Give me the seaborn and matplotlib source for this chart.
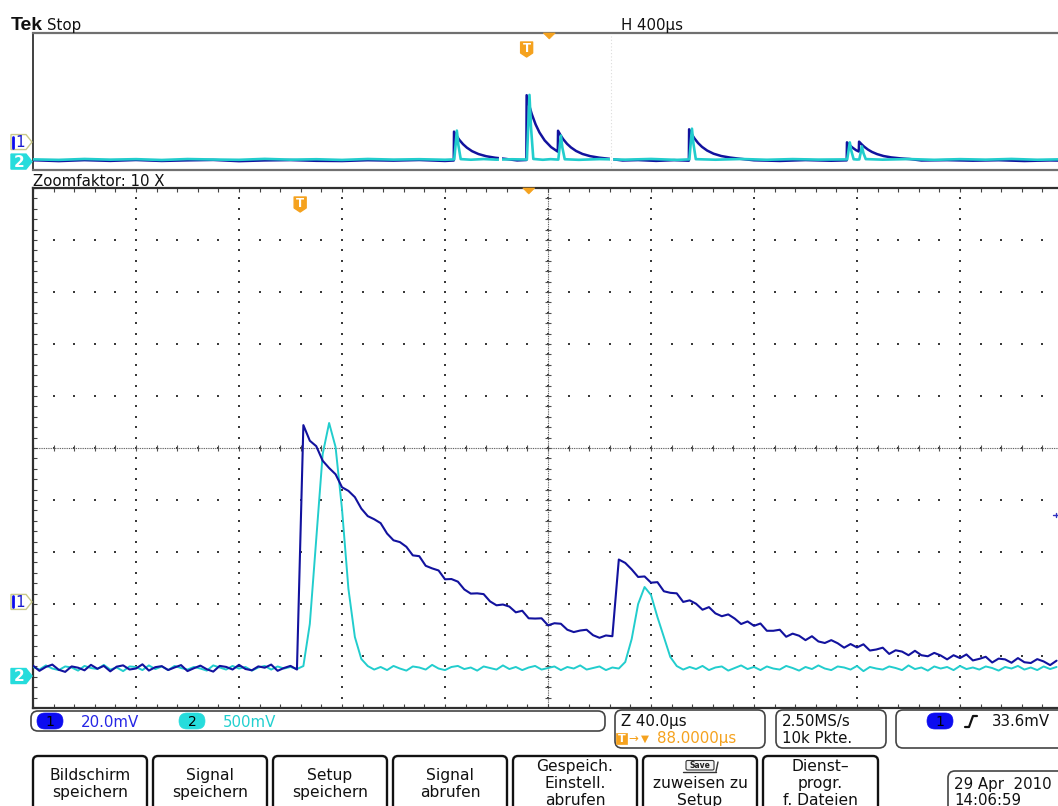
import numpy as np
import pandas as pd
import matplotlib
matplotlib.use("Agg")
import matplotlib.pyplot as plt
from matplotlib.patches import Polygon, FancyBboxPatch, Rectangle
import seaborn as sns

# ---------------- data ----------------
# Zoomed window: Z 40.0 us/div, samples every 2.5 us
MAIN_DT_US = 2.5
ch1_main_mv = [
    -24.5, -26.5, -25.0, -24.1, -26.1, -26.9, -24.8, -25.3, -26.3, -24.2,
    -25.7, -24.6, -26.7, -24.9, -24.4, -26.0, -25.6, -24.0, -26.4, -25.1,
    -24.7, -26.2, -25.2, -24.3, -26.6, -25.5, -24.5, -25.9, -26.8, -24.6,
    -25.0, -26.0, -24.2, -25.8, -26.3, -24.8, -25.3, -24.1, -26.5, -25.4,
    -24.6, -26.0,
    68.0, 62.0, 59.9, 54.3, 51.5, 49.1, 44.1, 42.7, 40.3, 35.9,
    33.0, 31.8, 30.3, 26.3, 23.7, 23.0, 21.2, 17.9, 17.6, 13.9,
    12.9, 12.1, 8.7, 8.8, 7.8, 4.8, 3.2, 3.3, 3.0, 0.2,
    -1.3, -1.0, -1.8, -4.0, -3.4, -6.3, -6.4, -6.3, -9.0, -8.2,
    -8.4, -10.7, -11.6, -11.0, -10.7, -12.8, -13.8, -12.9, -13.2,
    16.3, 15.0, 12.5, 9.6, 9.8, 7.4, 7.6, 4.1, 3.5,
    3.3, 0.0, 0.6, -0.7, -3.0, -2.0, -4.4, -5.5, -4.8, -6.4,
    -8.5, -7.5, -9.2, -8.3, -11.1, -11.1, -10.7, -13.4, -12.2, -13.0,
    -14.7, -13.2, -15.2, -15.8, -14.7, -15.9, -17.6, -16.2, -17.5, -16.3,
    -18.7, -18.3, -17.6, -20.0, -18.6, -19.1, -20.5, -18.8, -20.5, -20.9,
    -19.6, -20.6, -22.1, -20.5, -21.6, -20.2, -22.5, -21.9, -21.1, -23.3,
    -21.8, -22.1, -23.4, -21.6, -23.2, -23.5, -22.0, -22.9, -24.3, -22.6,
]
ch2_main_mv = [
    87, 62, 102, 72, 57, 92, 82, 52, 97, 77, 67, 107, 62, 82, 47, 92, 87, 57, 102, 67,
    92, 57, 97, 77, 62, 87, 72, 52, 102, 82, 62, 97, 72, 87, 52, 82, 97, 62, 92, 72,
    87, 67,
    96, 500, 1317, 2135, 2433, 2202, 1606, 837, 375, 164, 96,
    62, 87, 57, 97, 72, 52, 92, 82, 62, 107, 72, 57, 87, 97, 67, 82, 52, 92, 77, 62,
    102, 67, 87, 57, 82, 97, 62, 77, 92, 57, 87, 72, 102, 62, 77, 92, 57, 82, 72,
    135, 356, 692, 856, 779, 567, 375, 183, 96,
    62, 87, 67, 97, 57, 82, 92, 52, 77, 102, 67, 87, 57, 92, 72, 62, 97, 77, 52, 87,
    67, 102, 72, 57, 92, 82, 62, 97, 47, 87, 72, 62, 92, 77, 57, 102, 67, 82, 52, 92,
    72, 87, 57, 97, 67, 82, 62, 92, 77, 52, 87, 72, 97, 62, 82, 57, 92, 67, 87,
]

# Overview record: H 400 us/div
ov_ch1_t_us = [0, 100, 200, 300, 400, 500, 600, 700, 800, 900, 1000, 1100, 1200, 1300, 1400, 1500, 1600, 1634,
               1635, 1645, 1655, 1670, 1685, 1705, 1730, 1760, 1795, 1835, 1880, 1916,
               1917, 1927, 1937, 1952, 1967, 1987, 2012, 2038,
               2039, 2049, 2059, 2074, 2089, 2109, 2134, 2164, 2199, 2239, 2290, 2350, 2420, 2490, 2547,
               2548, 2558, 2568, 2583, 2598, 2618, 2643, 2673, 2708, 2748, 2800, 2900, 3000, 3100, 3160,
               3161, 3171, 3181, 3196, 3207,
               3208, 3218, 3228, 3243, 3258, 3278, 3303, 3333, 3368, 3408, 3450, 3550, 3650, 3750, 3850, 3950, 4000]
ov_ch1_mv = [-26.5, -27.8, -26.4, -27.5, -26.2, -27.6, -26.7, -26.1, -27.9, -26.8, -26.3, -27.4, -27.7, -26.5, -27.1, -26.2, -27.6, -26.9,
             15.2, 9.0, 3.5, -3.1, -8.2, -13.3, -17.5, -20.7, -22.9, -24.6, -26.8, -26.2,
             68.4, 53.4, 40.8, 25.6, 13.9, 2.4, -7.4, -14.0,
             16.5, 9.8, 4.2, -2.6, -7.8, -13.0, -17.4, -20.6, -22.8, -24.5, -26.9, -26.3, -27.5, -26.4, -27.2,
             18.6, 11.6, 5.7, -1.5, -7.0, -12.4, -17.0, -20.4, -22.7, -24.5, -26.6, -27.6, -26.3, -27.3, -26.7,
             -0.4, -4.4, -7.7, -11.8, -13.8,
             0.6, -3.3, -6.8, -11.1, -14.4, -17.6, -20.4, -22.4, -23.8, -24.9, -26.9, -26.4, -27.2, -26.5, -27.7, -26.8, -27.1]
ov_ch2_t_us = [0, 100, 200, 300, 400, 500, 600, 700, 800, 900, 1000, 1100, 1200, 1300, 1400, 1500, 1600, 1636,
               1641, 1646, 1652, 1661, 1700, 1750, 1800, 1860, 1918,
               1923, 1928, 1934, 1943, 1980, 2010, 2040,
               2045, 2050, 2056, 2065, 2120, 2200, 2300, 2400, 2500, 2549,
               2554, 2559, 2565, 2574, 2650, 2750, 2850, 2950, 3050, 3162,
               3167, 3172, 3178, 3187, 3200, 3209,
               3214, 3219, 3225, 3234, 3300, 3400, 3500, 3600, 3700, 3800, 3900, 4000]
ov_ch2_mv = [80, 62, 95, 70, 88, 58, 92, 75, 64, 98, 70, 85, 60, 94, 72, 86, 66, 80,
             600, 1130, 600, 90, 68, 92, 70, 84, 75,
             1250, 2433, 1250, 96, 66, 88, 72,
             500, 950, 500, 85, 64, 90, 70, 95, 62, 80,
             640, 1200, 640, 88, 68, 94, 66, 90, 72, 80,
             390, 700, 390, 85, 75, 80,
             310, 550, 310, 90, 70, 92, 64, 88, 70, 96, 66, 84]

# scope settings
CH1_MV_PER_DIV = 20.0
CH2_MV_PER_DIV = 500.0
CH1_POS_DIV = -2.96
CH2_POS_DIV = -4.385
MAIN_US_PER_DIV = 40
OV_US_PER_DIV = 400
TRIG_MAIN_US = 103.75
TRIG_OV_US = 1917.0
TRIG_DELAY_US = 88.0
TRIG_LEVEL_MV = 33.6
ZOOM_WIN_US = [1813, 2245]

# texts
header_left = ("Tek", "Stop")
header_h = "H 400µs"
zoom_label = "Zoomfaktor: 10 X"
ch1_scale_txt = "20.0mV"
ch2_scale_txt = "500mV"
zoom_scale_txt = "Z 40.0µs"
delay_txt = "88.0000µs"
rate_txt = ["2.50MS/s", "10k Pkte."]
trig_txt = "33.6mV"
button_labels = [["Bildschirm", "speichern"], ["Signal", "speichern"], ["Setup", "speichern"],
                 ["Signal", "abrufen"], ["Gespeich.", "Einstell.", "abrufen"],
                 ["", "zuweisen zu", "Setup"], ["Dienst–", "progr.", "f. Dateien"]]
date_txt = ["29 Apr  2010", "14:06:59"]

# ---------------- styling ----------------
ORANGE = '#F5A21E'
C1 = '#12129E'
C2 = '#22CDCD'
PILL1 = '#0C0CF0'
PILL2 = '#26DCDC'
TXT1 = '#2626E6'
TXT2 = '#22D0D0'
FS = 10.8

sns.set_style("white")
plt.rcParams['font.family'] = ['DejaVu Sans']

W, H, DPI = 1058, 806, 100
fig = plt.figure(figsize=(W / DPI, H / DPI), dpi=DPI)
fig.patch.set_facecolor('white')


def px_axes(x0, y0, x1, y1):
    return fig.add_axes([x0 / W, 1 - y1 / H, (x1 - x0) / W, (y1 - y0) / H])


ax_ov = px_axes(33, 33, 1063, 170)
ax = px_axes(33, 188, 1063, 708)

# ---------------- overview ----------------
ov1 = pd.DataFrame({'t': ov_ch1_t_us, 'div': np.array(ov_ch1_mv) / CH1_MV_PER_DIV + CH1_POS_DIV})
ov2 = pd.DataFrame({'t': ov_ch2_t_us, 'div': np.array(ov_ch2_mv) / CH2_MV_PER_DIV + CH2_POS_DIV})
sns.lineplot(data=ov1, x='t', y='div', ax=ax_ov, color=C1, linewidth=1.8, estimator=None, sort=False, zorder=3)
sns.lineplot(data=ov2, x='t', y='div', ax=ax_ov, color=C2, linewidth=1.9, estimator=None, sort=False, zorder=4)
for xw in ZOOM_WIN_US:
    ax_ov.axvline(xw, ymin=0.03, ymax=0.97, color='white', lw=2.2, zorder=6)
ax_ov.axvline(ZOOM_WIN_US[1], ymin=0.02, ymax=0.98, color='#dcdcdc', lw=0.8, ls=(0, (1, 2)), zorder=7)
ax_ov.set_xlim(0, 10 * OV_US_PER_DIV)
ax_ov.set_ylim(-5, 5)
ax_ov.set_xticks([]); ax_ov.set_yticks([])
ax_ov.set_xlabel(''); ax_ov.set_ylabel('')
for side in ['top', 'bottom']:
    ax_ov.spines[side].set_color('#707070'); ax_ov.spines[side].set_linewidth(1.6)
ax_ov.spines['left'].set_color('#404040'); ax_ov.spines['left'].set_linewidth(1.4)
ax_ov.spines['right'].set_visible(False)

# ---------------- main (zoomed) ----------------
t_main = np.arange(len(ch1_main_mv)) * MAIN_DT_US
m1 = pd.DataFrame({'t': t_main, 'div': np.array(ch1_main_mv) / CH1_MV_PER_DIV + CH1_POS_DIV})
m2 = pd.DataFrame({'t': t_main, 'div': np.array(ch2_main_mv) / CH2_MV_PER_DIV + CH2_POS_DIV})
sns.lineplot(data=m2, x='t', y='div', ax=ax, color=C2, linewidth=1.4, estimator=None, sort=False, zorder=4)
sns.lineplot(data=m1, x='t', y='div', ax=ax, color=C1, linewidth=1.5, estimator=None, sort=False, zorder=5)

xmax = 10 * MAIN_US_PER_DIV
ax.set_xlim(0, xmax)
ax.set_ylim(-5, 5)
ax.set_xlabel(''); ax.set_ylabel('')

# graticule dots
xs_major = np.arange(0, xmax + 0.1, MAIN_US_PER_DIV)
xs_minor = np.arange(0, xmax + 0.1, MAIN_US_PER_DIV / 5)
ys_major = np.arange(-5, 5.01, 1.0)
ys_minor = np.arange(-5, 5.01, 0.2)
gx, gy = np.meshgrid(xs_major, ys_minor)
ax.scatter(gx.ravel(), gy.ravel(), s=1.0, c='#3a3a3a', marker='s', linewidths=0, zorder=1)
gx, gy = np.meshgrid(xs_minor, ys_major)
ax.scatter(gx.ravel(), gy.ravel(), s=1.0, c='#3a3a3a', marker='s', linewidths=0, zorder=1)
# center cross
ax.axhline(0, color='#505050', lw=0.8, ls=(0, (0.8, 0.8)), zorder=1)
ax.axvline(xmax / 2, color='#505050', lw=0.8, ls=(0, (0.8, 0.8)), zorder=1)
ax.scatter(xs_minor, np.zeros_like(xs_minor), marker='|', s=16, c='#505050', linewidths=0.8, zorder=1)
ax.scatter(np.full_like(ys_minor, xmax / 2), ys_minor, marker='_', s=16, c='#505050', linewidths=0.8, zorder=1)

ax.set_xticks(xs_minor)
ax.set_yticks(ys_minor)
ax.tick_params(which='major', direction='in', length=3, width=0.8, color='#444444',
               top=True, bottom=True, left=True, right=True,
               labelbottom=False, labelleft=False)
for side in ['top', 'bottom', 'left']:
    ax.spines[side].set_color('#303030'); ax.spines[side].set_linewidth(1.6)
ax.spines['right'].set_visible(False)

# ---------------- overlay (UI chrome) ----------------
ov = fig.add_axes([0, 0, 1, 1])
ov.set_xlim(0, W); ov.set_ylim(H, 0); ov.axis('off')


def to_px(axx, x, y):
    dx, dy = axx.transData.transform((x, y))
    return dx, H - dy


ov.text(11, 30, header_left[0], family='Liberation Sans', weight='bold', fontsize=14, va='baseline', color='#111111')
ov.text(47, 30, header_left[1], fontsize=FS, va='baseline', color='#111111')
ov.text(621, 30, header_h, fontsize=FS, va='baseline', color='#111111')
ov.text(33, 185.5, zoom_label, fontsize=FS, va='baseline', color='#111111')


def trig_marker(cx, cy):
    pts = [(cx - 6, cy - 7), (cx + 6, cy - 7), (cx + 6, cy + 4), (cx, cy + 8), (cx - 6, cy + 4)]
    ov.add_patch(Polygon(pts, closed=True, fc=ORANGE, ec=ORANGE, lw=1, joinstyle='round'))
    ov.text(cx, cy - 0.5, "T", color='white', fontsize=8.5, fontweight='bold', ha='center', va='center')


def delay_marker(cx, top):
    ov.add_patch(Polygon([(cx - 6, top), (cx + 6, top), (cx, top + 6)], closed=True, fc=ORANGE, ec=ORANGE, lw=0.5))


x_tov, _ = to_px(ax_ov, TRIG_OV_US, 0)
x_dov, _ = to_px(ax_ov, TRIG_OV_US + TRIG_DELAY_US, 0)
x_tm, _ = to_px(ax, TRIG_MAIN_US, 0)
x_dm, _ = to_px(ax, TRIG_MAIN_US + TRIG_DELAY_US, 0)
trig_marker(x_tov, 49)
delay_marker(x_dov, 33)
trig_marker(x_tm, 204)
delay_marker(x_dm + 2, 188)


def ch_tag(y, num, filled):
    x0, x1, tip, h = 11, 26, 32, 15
    pts = [(x0, y - h / 2), (x1, y - h / 2), (tip, y), (x1, y + h / 2), (x0, y + h / 2)]
    if filled:
        ov.add_patch(Polygon(pts, closed=True, fc=PILL2, ec=PILL2, lw=1))
        ov.text(19, y + 0.5, num, color='white', fontsize=11, fontweight='bold', ha='center', va='center')
    else:
        ov.add_patch(Polygon(pts, closed=True, fc='white', ec='#C9C98A', lw=1))
        ov.plot([12.5, 12.5], [y - 5.5, y + 5.5], color=PILL1, lw=2)
        ov.text(20, y + 0.5, num, color='#1A1AD0', fontsize=11, ha='center', va='center')


_, y1o = to_px(ax_ov, 0, CH1_POS_DIV)
_, y2o = to_px(ax_ov, 0, CH2_POS_DIV)
_, y1m = to_px(ax, 0, CH1_POS_DIV)
_, y2m = to_px(ax, 0, CH2_POS_DIV)
ch_tag(y1o, "1", False)
ch_tag(y2o, "2", True)
ch_tag(y1m, "1", False)
ch_tag(y2m, "2", True)

# trigger level indicator at right edge
_, ytl = to_px(ax, 0, TRIG_LEVEL_MV / CH1_MV_PER_DIV + CH1_POS_DIV)
ov.plot([1053, 1058], [ytl, ytl], color='#3030C0', lw=1)
ov.plot([1056, 1056], [ytl - 2, ytl + 2], color='#3030C0', lw=1)


def rbox(x, y, w, h, r=7, ec='#444444', lw=1.2, fc='white'):
    ov.add_patch(FancyBboxPatch((x, y), w, h, boxstyle=f"round,pad=0,rounding_size={r}",
                                fc=fc, ec=ec, lw=lw))


def pill(x, y, num, color):
    rbox(x, y, 26, 16, r=8, ec=color, lw=0.5, fc=color)
    ov.text(x + 13, y + 13, num, color='black', fontsize=10, ha='center', va='baseline')


# status bar
rbox(31, 711, 574, 20)
pill(37, 713, "1", PILL1)
ov.text(81, 727, ch1_scale_txt, color=TXT1, fontsize=FS, va='baseline')
pill(179, 713, "2", PILL2)
ov.text(223, 727, ch2_scale_txt, color=TXT2, fontsize=FS, va='baseline')

rbox(615, 710, 150, 38)
ov.text(621, 726, zoom_scale_txt, fontsize=FS, va='baseline', color='#111111')
ov.add_patch(Rectangle((616, 732.5), 11, 11.5, fc=ORANGE, ec=ORANGE, lw=0.5))
ov.text(621.5, 742.5, "T", color='white', fontsize=8, fontweight='bold', ha='center', va='baseline')
ov.text(628, 742, "→", color=ORANGE, fontsize=8.5, va='baseline')
ov.text(641, 742, "▼", color=ORANGE, fontsize=7.5, va='baseline')
ov.text(657, 743, delay_txt, color=ORANGE, fontsize=FS, va='baseline')

rbox(776, 710, 110, 38)
ov.text(782, 726, rate_txt[0], fontsize=FS, va='baseline', color='#111111')
ov.text(782, 743, rate_txt[1], fontsize=FS, va='baseline', color='#111111')

rbox(896, 710, 190, 38)
pill(927, 713, "1", PILL1)
ov.plot([965, 969, 973, 977], [727, 727, 716, 716], color='#111111', lw=1.6)
ov.text(992, 726, trig_txt, fontsize=FS, va='baseline', color='#111111')

# soft-key buttons
button_x = [(33, 147), (153, 267), (273, 387), (393, 507), (513, 637), (643, 757), (763, 878)]
for (x0, x1), lines in zip(button_x, button_labels):
    rbox(x0, 756, x1 - x0, 70, r=5, ec='#111111', lw=1.7)
    cx = (x0 + x1) / 2
    if len(lines) == 2:
        bases = [780, 797]
    else:
        bases = [771, 788, 805]
    for txt, b in zip(lines, bases):
        if txt:
            ov.text(cx, b, txt, fontsize=11.2, ha='center', va='baseline', color='#111111')

# "Save" icon in the 6th button
rbox(686, 760.5, 28, 9.5, r=1.5, ec='#333333', lw=0.8, fc='#f4f4f4')
ov.text(700, 768.5, "Save", fontsize=5.5, fontweight='bold', ha='center', va='baseline', color='#222222')
ov.plot([683, 716], [771.5, 771.5], color='#333333', lw=1)
ov.plot([716, 718], [771.5, 762], color='#333333', lw=1)

# date box
rbox(948, 771, 140, 50)
ov.text(954, 789, date_txt[0], fontsize=FS, va='baseline', color='#111111')
ov.text(954, 805, date_txt[1], fontsize=FS, va='baseline', color='#111111')

fig.savefig('out.png', dpi=DPI, facecolor='white')
